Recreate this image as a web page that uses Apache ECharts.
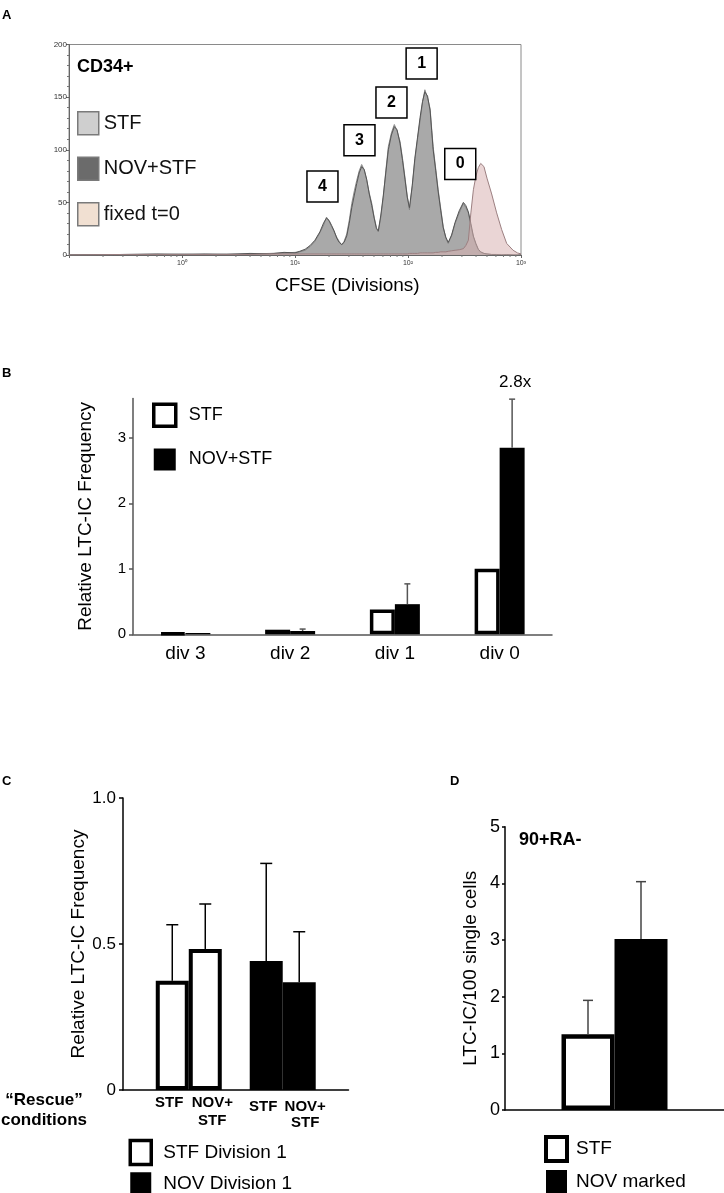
<!DOCTYPE html>
<html><head><meta charset="utf-8">
<script src="https://cdn.jsdelivr.net/npm/echarts@6/dist/echarts.min.js"></script>
<style>html,body{margin:0;padding:0;background:#fff}#c{width:724px;height:1193px}</style>
</head><body><div id="c"></div>
<script>
// ---------- Panel A : CFSE histogram ----------
const A_CFSE = [0.1, 0.3, 0.6, 1, 1.6, 2.5, 4, 6, 8, 10,
  11, 12.3, 13.6, 15, 16.6, 18, 19, 20, 21.1, 22.2,
  23.4, 24.6, 25.9, 27.2, 28.7, 30.2, 31.8, 33.5, 35.2, 37,
  38.9, 41, 43.1, 45.4, 47.8, 50.2, 52.6, 54.6, 57.5, 60.5,
  63.6, 67, 71.3, 75.7, 80, 85, 89.4, 94, 98.5, 103,
  109, 115, 121.5, 128, 134.5, 141, 149, 157, 162, 167,
  176, 185, 195, 205, 216, 227, 243, 261, 284, 309,
  325, 342, 360, 379, 399, 419, 440, 470, 500, 550,
  609, 675, 747, 851, 930, 1000];
const A_STF = [0, 0.5, 0.5, 1, 0.5, 1, 1, 1.5, 2, 2.5,
  3, 4.5, 8, 13, 21, 29, 36, 32, 27, 22,
  17, 13, 9.5, 13, 20, 33, 49, 61, 71, 80,
  86, 81, 71, 59, 49, 36, 26, 22, 36, 55,
  80, 103, 116, 124, 118, 108, 92, 74, 56, 43,
  65, 90, 110, 128, 145, 157, 149, 139, 120, 103,
  82, 62, 44, 27, 16, 11, 18, 30, 40, 49,
  45, 40, 28, 17, 10, 5, 2.5, 1.5, 1, 0.5,
  0.5, 0.5, 0, 0, 0, 0];
const A_NOV_STF = [0, 0.5, 1, 0.5, 1, 0.5, 1.5, 1, 2.5, 2,
  3.5, 5.5, 9, 14, 22, 31, 35, 33, 28, 23,
  16, 12, 10, 12, 18, 30, 45, 57, 68, 78,
  84, 81, 72, 58, 47, 35, 25, 23, 38, 57,
  78, 100, 114, 122, 119, 106, 90, 72, 55, 45,
  66, 92, 112, 131, 146, 155, 151, 137, 118, 100,
  80, 60, 42, 26, 17, 12, 19, 31, 42, 50,
  47, 41, 30, 18, 11, 5.5, 3, 1.5, 1, 0.5,
  0.5, 0, 0.5, 0, 0, 0];
const A_FIXED_T0 = [0, 0.5, 0.5, 0.5, 0.5, 0.5, 0.5, 1, 1, 1,
  1, 1, 1, 1, 1, 1, 1, 1, 1, 1,
  1, 1, 1, 1, 1, 1, 1, 1, 1, 1,
  1, 1, 1, 1, 1, 1, 1, 1, 1, 1,
  1, 1, 1, 1, 1, 1, 1, 1, 1, 1.5,
  1.5, 1.5, 1.5, 2, 2, 2, 2, 2, 2, 2,
  2.5, 2.5, 3, 3, 3, 3.5, 4, 4.5, 5, 6,
  9, 14, 40, 62, 75, 83, 87, 84, 73, 58,
  40, 24, 11, 4.5, 2, 1];
const A_X_TICK_LABELS = ['10\u2070', '10\u00b9', '10\u00b2', '10\u00b3'];
const A_MINOR_TICKS = [0.2,0.3,0.4,0.5,0.6,0.7,0.8,0.9, 2,3,4,5,6,7,8,9,
  20,30,40,50,60,70,80,90, 200,300,400,500,600,700,800,900];
const A_PEAK_LABELS = ['4', '3', '2', '1', '0'];
const A_PEAK_CFSE = [17.5, 37.2, 71.4, 132, 290];
const A_PEAK_COUNT = [65, 109, 145, 182, 86.5];

// ---------- Panel B ----------
const B_CATEGORIES = ['div 3', 'div 2', 'div 1', 'div 0'];
const B_STF = [0.02, 0.07, 0.38, 1.0];
const B_NOV_STF = [0.02, 0.05, 0.46, 2.85];
const B_NOV_STF_ERR = [0, 0.03, 0.31, 0.74];
const B_Y_TICKS = [0, 1, 2, 3];

// ---------- Panel C ----------
const C_RESCUE = ['STF', 'NOV+\nSTF'];
const C_STF_DIV1 = [0.374, 0.483];
const C_STF_DIV1_ERR = [0.192, 0.154];
const C_NOV_DIV1 = [0.442, 0.369];
const C_NOV_DIV1_ERR = [0.334, 0.173];

// ---------- Panel D ----------
const D_CATEGORIES = ['90+RA-'];
const D_STF = [1.335];
const D_STF_ERR = [0.6];
const D_NOV = [3.02];
const D_NOV_ERR = [1.01];

const FONT = 'Liberation Sans, Arial, Helvetica, sans-serif';
const chart = echarts.init(document.getElementById('c'), null, {renderer: 'canvas'});

function errorBars(xi, yi, points, offsets, cap, color, width) {
  return {
    type: 'custom', xAxisIndex: xi, yAxisIndex: yi, silent: true, z: 6, clip: false,
    data: points,
    renderItem: function (params, api) {
      const x = api.value(0), v = api.value(1), e = api.value(2);
      if (!(e > 0)) return null;
      const p0 = api.coord([x, v]);
      const p1 = api.coord([x, v + e]);
      const cx = p0[0] + offsets[params.dataIndex];
      const st = {stroke: color, lineWidth: width};
      return {type: 'group', children: [
        {type: 'line', shape: {x1: cx, y1: p0[1], x2: cx, y2: p1[1]}, style: st},
        {type: 'line', shape: {x1: cx - cap / 2, y1: p1[1], x2: cx + cap / 2, y2: p1[1]}, style: st}
      ]};
    }
  };
}

const nameOf = n => n.split('|')[1];
const titleTxt = (text, left, top, size, bold, extra) => Object.assign({
  text: text, left: left, top: top, padding: 0,
  textStyle: {fontSize: size, fontWeight: bold ? 'bold' : 'normal', color: '#000', fontFamily: FONT, lineHeight: 20}
}, extra || {});

const option = {
  animation: false,
  backgroundColor: '#fff',
  textStyle: {fontFamily: FONT},
  title: [
    titleTxt('A', 2, 5, 13, true),
    titleTxt('CD34+', 77, 57, 18, true),
    titleTxt('CFSE (Divisions)', 275, 276, 19, false),
    titleTxt('B', 2, 363, 13, true),
    titleTxt('2.8x', 499, 372, 17, false),
    titleTxt('C', 2, 771, 13, true),
    titleTxt('\u201cRescue\u201d\nconditions', 44, 1090, 17, true, {textAlign: 'center'}),
    titleTxt('D', 450, 771, 13, true),
    titleTxt('90+RA-', 519, 830, 18, true)
  ],
  legend: [
    {left: 77, top: 111, padding: 0, orient: 'vertical', icon: 'rect', itemWidth: 21, itemHeight: 23, itemGap: 21,
      selectedMode: false, formatter: nameOf,
      textStyle: {fontSize: 20, color: '#111', fontFamily: FONT},
      data: [
        {name: 'A|STF', itemStyle: {color: '#cfcfcf', borderColor: '#7a7a7a', borderWidth: 1.5}},
        {name: 'A|NOV+STF', itemStyle: {color: '#6b6b6b', borderColor: '#7a7a7a', borderWidth: 1.5}},
        {name: 'A|fixed t=0', itemStyle: {color: '#f1e0d2', borderColor: '#7a7a7a', borderWidth: 1.5}}
      ]},
    {left: 152, top: 402.5, padding: 0, orient: 'vertical', icon: 'rect', itemWidth: 22, itemHeight: 22, itemGap: 20.5,
      selectedMode: false, formatter: nameOf,
      textStyle: {fontSize: 18, color: '#000', fontFamily: FONT, padding: [0, 0, 0, 8]},
      data: [
        {name: 'B|STF', itemStyle: {color: '#fff', borderColor: '#000', borderWidth: 3.5}},
        {name: 'B|NOV+STF', itemStyle: {color: '#000', borderColor: '#000', borderWidth: 0}}
      ]},
    {left: 128.5, top: 1138.75, height: 90, padding: 0, orient: 'vertical', icon: 'rect', itemWidth: 21, itemHeight: 24, itemGap: 6,
      selectedMode: false, formatter: nameOf,
      textStyle: {fontSize: 19, color: '#000', fontFamily: FONT, padding: [0, 0, 0, 7]},
      data: [
        {name: 'C|STF Division 1', itemStyle: {color: '#fff', borderColor: '#000', borderWidth: 3.5}},
        {name: 'C|NOV Division 1', itemStyle: {color: '#000', borderColor: '#000', borderWidth: 0}}
      ]},
    {left: 544, top: 1135, height: 90, padding: 0, orient: 'vertical', icon: 'rect', itemWidth: 21, itemHeight: 24, itemGap: 7,
      selectedMode: false, formatter: nameOf,
      textStyle: {fontSize: 19, color: '#000', fontFamily: FONT, padding: [0, 0, 0, 4]},
      data: [
        {name: 'D|STF', itemStyle: {color: '#fff', borderColor: '#000', borderWidth: 4}},
        {name: 'D|NOV marked', itemStyle: {color: '#000', borderColor: '#000', borderWidth: 0}}
      ]}
  ],
  grid: [
    {left: 69, top: 44.5, width: 452, height: 210.5, show: true, borderColor: '#8a8a8a', borderWidth: 1, outerBoundsMode: 'none', containLabel: false},
    {left: 133, top: 398.5, width: 419, height: 235.8, outerBoundsMode: 'none', containLabel: false},
    {left: 123, top: 798, width: 225.5, height: 292, outerBoundsMode: 'none', containLabel: false},
    {left: 505, top: 826.7, width: 219, height: 283.3, outerBoundsMode: 'none', containLabel: false}
  ],
  xAxis: [
    {gridIndex: 0, type: 'log', logBase: 10, min: 0.1, max: 1000,
      axisLine: {onZero: false, lineStyle: {color: '#666', width: 1}},
      axisTick: {length: 3, lineStyle: {color: '#666'}},
      splitLine: {show: false},
      axisLabel: {fontSize: 7, color: '#333', margin: 5,
        formatter: v => { const e = Math.round(Math.log10(v)); return e >= 0 ? A_X_TICK_LABELS[e] : ''; }}},
    {gridIndex: 1, type: 'category', data: B_CATEGORIES,
      axisLine: {onZero: false, lineStyle: {color: '#555', width: 1.5}},
      axisTick: {show: false},
      axisLabel: {fontSize: 19, color: '#000', margin: 10}},
    {gridIndex: 2, type: 'value', min: -0.7, max: 1.7,
      axisLine: {show: true, onZero: false, lineStyle: {color: '#000', width: 1.5}},
      axisTick: {show: false}, axisLabel: {show: false}, splitLine: {show: false}},
    {gridIndex: 3, type: 'category', data: D_CATEGORIES,
      axisLine: {onZero: false, lineStyle: {color: '#000', width: 1.5}},
      axisTick: {show: false}, axisLabel: {show: false}}
  ],
  yAxis: [
    {gridIndex: 0, type: 'value', min: 0, max: 200, interval: 50,
      axisLine: {show: true, onZero: false, lineStyle: {color: '#666', width: 1}},
      axisTick: {show: true, length: 3, lineStyle: {color: '#666'}},
      minorTick: {show: true, splitNumber: 5, length: 2, lineStyle: {color: '#777'}},
      splitLine: {show: false},
      axisLabel: {fontSize: 8, color: '#333', margin: 2}},
    {gridIndex: 1, type: 'value', min: 0, max: 3.6,
      name: 'Relative LTC-IC Frequency', nameLocation: 'middle', nameGap: 38,
      nameTextStyle: {fontSize: 19, color: '#000', fontFamily: FONT},
      axisLine: {show: true, onZero: false, lineStyle: {color: '#555', width: 1.5}},
      axisTick: {show: true, length: 4, customValues: B_Y_TICKS, lineStyle: {color: '#555', width: 1.5}},
      splitLine: {show: false},
      axisLabel: {fontSize: 15, color: '#000', margin: 7, customValues: B_Y_TICKS}},
    {gridIndex: 2, type: 'value', min: 0, max: 1, interval: 0.5,
      name: 'Relative LTC-IC Frequency', nameLocation: 'middle', nameGap: 35,
      nameTextStyle: {fontSize: 19, color: '#000', fontFamily: FONT},
      axisLine: {show: true, onZero: false, lineStyle: {color: '#000', width: 1.5}},
      axisTick: {show: true, length: 4, lineStyle: {color: '#000', width: 1.5}},
      splitLine: {show: false},
      axisLabel: {fontSize: 17, color: '#000', margin: 7, formatter: v => v === 0 ? '0' : v.toFixed(1)}},
    {gridIndex: 3, type: 'value', min: 0, max: 5, interval: 1,
      name: 'LTC-IC/100 single cells', nameLocation: 'middle', nameGap: 25,
      nameTextStyle: {fontSize: 19, color: '#000', fontFamily: FONT},
      axisLine: {show: true, onZero: false, lineStyle: {color: '#000', width: 1.5}},
      axisTick: {show: true, length: 3, lineStyle: {color: '#000', width: 1.5}},
      splitLine: {show: false},
      axisLabel: {fontSize: 18, color: '#000', margin: 5}}
  ],
  series: [
    // Panel A
    {name: 'A|STF', type: 'line', xAxisIndex: 0, yAxisIndex: 0, symbol: 'none', z: 2,
      data: A_CFSE.map((x, i) => [x, A_STF[i]]),
      lineStyle: {color: '#8c8c8c', width: 1}, areaStyle: {color: '#d0d0d0', opacity: 1}},
    {name: 'A|NOV+STF', type: 'line', xAxisIndex: 0, yAxisIndex: 0, symbol: 'none', z: 3,
      data: A_CFSE.map((x, i) => [x, A_NOV_STF[i]]),
      lineStyle: {color: '#555', width: 1}, areaStyle: {color: '#7a7a7a', opacity: 0.45}},
    {name: 'A|fixed t=0', type: 'line', xAxisIndex: 0, yAxisIndex: 0, symbol: 'none', z: 4,
      data: A_CFSE.map((x, i) => [x, A_FIXED_T0[i]]),
      lineStyle: {color: '#9b7f80', width: 1}, areaStyle: {color: '#d9b3b3', opacity: 0.55}},
    {type: 'custom', xAxisIndex: 0, yAxisIndex: 0, silent: true, clip: false, z: 5,
      data: A_MINOR_TICKS.map(v => [v, 0]),
      renderItem: function (params, api) {
        const p = api.coord([api.value(0), 0]);
        return {type: 'line', shape: {x1: p[0], y1: p[1], x2: p[0], y2: p[1] + 2}, style: {stroke: '#777', lineWidth: 1}};
      }},
    {type: 'scatter', xAxisIndex: 0, yAxisIndex: 0, symbol: 'rect', symbolSize: [31, 31], z: 10, silent: true,
      itemStyle: {color: '#fff', borderColor: '#000', borderWidth: 1.5, opacity: 1},
      label: {show: true, position: 'inside', formatter: '{b}', fontSize: 16, fontWeight: 'bold', color: '#000'},
      data: A_PEAK_LABELS.map((t, i) => ({name: t, value: [A_PEAK_CFSE[i], A_PEAK_COUNT[i]]}))},

    // Panel B
    {name: 'B|STF', type: 'bar', xAxisIndex: 1, yAxisIndex: 1, data: B_STF, barWidth: 25, barGap: '0%',
      itemStyle: {color: '#fff', borderColor: '#000', borderWidth: 3.5}},
    {name: 'B|NOV+STF', type: 'bar', xAxisIndex: 1, yAxisIndex: 1, data: B_NOV_STF, barWidth: 25, barGap: '0%',
      itemStyle: {color: '#000'}},
    errorBars(1, 1, B_CATEGORIES.map((c, i) => [c, B_NOV_STF[i], B_NOV_STF_ERR[i]]), [12.5, 12.5, 12.5, 12.5], 6, '#555', 1.5),

    // Panel C
    ...[0, 1].map(r => ({
      name: 'C|STF Division 1', type: 'bar', xAxisIndex: 2, yAxisIndex: 2, stack: 'rescue' + r,
      barWidth: 33, barGap: '0%', data: [[0, C_STF_DIV1[r]], [1, '-']],
      itemStyle: {color: '#fff', borderColor: '#000', borderWidth: 4},
      label: {show: true, position: 'bottom', distance: 4, formatter: C_RESCUE[r], fontSize: 15,
        fontWeight: 'bold', lineHeight: 18, color: '#000', align: 'center', offset: [r ? 7 : -3, 0]}
    })),
    ...[0, 1].map(r => ({
      name: 'C|NOV Division 1', type: 'bar', xAxisIndex: 2, yAxisIndex: 2, stack: 'rescue' + r,
      barWidth: 33, barGap: '0%', data: [[0, '-'], [1, C_NOV_DIV1[r]]],
      itemStyle: {color: '#000', borderColor: '#000', borderWidth: 0},
      label: {show: true, position: 'bottom', distance: 9, formatter: C_RESCUE[r], fontSize: 15,
        fontWeight: 'bold', lineHeight: 16, color: '#000', align: 'center', offset: [r ? 6 : -3, 0]}
    })),
    errorBars(2, 2, [[0, C_STF_DIV1[0], C_STF_DIV1_ERR[0]], [0, C_STF_DIV1[1], C_STF_DIV1_ERR[1]],
      [1, C_NOV_DIV1[0], C_NOV_DIV1_ERR[0]], [1, C_NOV_DIV1[1], C_NOV_DIV1_ERR[1]]],
      [-16.5, 16.5, -16.5, 16.5], 12, '#000', 1.5),

    // Panel D
    {name: 'D|STF', type: 'bar', xAxisIndex: 3, yAxisIndex: 3, data: D_STF, barWidth: 53, barGap: '0%',
      itemStyle: {color: '#fff', borderColor: '#000', borderWidth: 4.5}},
    {name: 'D|NOV marked', type: 'bar', xAxisIndex: 3, yAxisIndex: 3, data: D_NOV, barWidth: 53, barGap: '0%',
      itemStyle: {color: '#000'}},
    errorBars(3, 3, [[D_CATEGORIES[0], D_STF[0], D_STF_ERR[0]], [D_CATEGORIES[0], D_NOV[0], D_NOV_ERR[0]]],
      [-26.5, 26.5], 10, '#444', 1.5)
  ]
};
chart.setOption(option);
</script>
</body></html>
